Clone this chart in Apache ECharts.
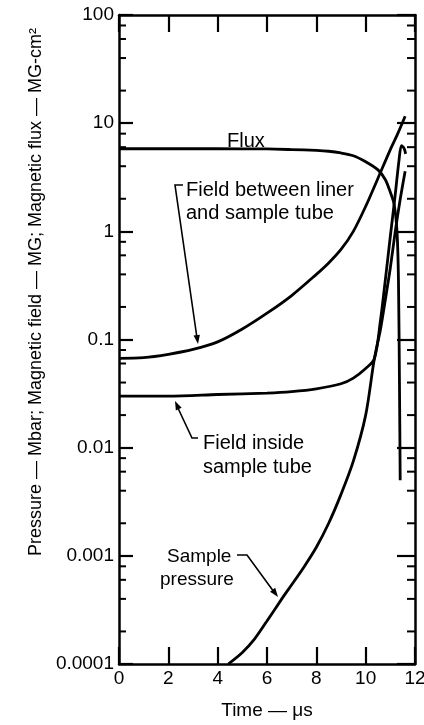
<!DOCTYPE html>
<html>
<head>
<meta charset="utf-8">
<script src="https://cdn.jsdelivr.net/npm/echarts@6/dist/echarts.min.js"></script>
<style>
html,body{margin:0;padding:0;background:#fff;}
#chart{width:424px;height:725px;}
</style>
</head>
<body>
<div id="chart"></div>
<script>
// ---- data ----
const xTickLabels = ['0','2','4','6','8','10','12'];
const yTickLabels = ['0.0001','0.001','0.01','0.1','1','10','100'];
const yMinorTicks = [
  0.0002,0.0004,0.0006,0.0008, 0.002,0.004,0.006,0.008,
  0.02,0.04,0.06,0.08, 0.2,0.4,0.6,0.8, 2,4,6,8, 20,40,60,80
];

const fluxTime  = [0, 2, 4, 6, 7, 8, 8.5, 9, 9.5, 10, 10.5, 10.8, 11.0, 11.15, 11.27, 11.33, 11.37, 11.4];
const fluxValue = [5.8, 5.8, 5.8, 5.78, 5.7, 5.6, 5.5, 5.3, 5.0, 4.4, 3.7, 3.0, 2.3, 1.8, 1.0, 0.35, 0.04, 0.005];

const betweenTime  = [0, 1, 2, 3, 4, 5, 6, 7, 8, 8.5, 9, 9.5, 10, 10.5, 11, 11.3, 11.6];
const betweenValue = [0.067, 0.068, 0.073, 0.081, 0.095, 0.125, 0.175, 0.255, 0.40, 0.51, 0.68, 1.0, 1.7, 3.1, 5.7, 8.0, 11.6];

const insideTime  = [0, 2, 4, 6, 7, 8, 9, 9.5, 10, 10.35, 10.6, 10.8, 11.0, 11.2, 11.35, 11.45, 11.55, 11.62];
const insideValue = [0.03, 0.03, 0.031, 0.032, 0.033, 0.035, 0.039, 0.044, 0.054, 0.066, 0.15, 0.36, 0.9, 2.2, 4.5, 6.2, 5.9, 5.2];

const pressureTime  = [4.43, 5, 5.5, 6, 6.6, 7, 7.5, 8, 8.5, 9, 9.5, 10, 10.35, 10.6, 10.8, 11.0, 11.2, 11.4, 11.6];
const pressureValue = [0.0001, 0.000128, 0.000171, 0.00025, 0.0004, 0.00054, 0.00079, 0.0012, 0.002, 0.0037, 0.0075, 0.02, 0.066, 0.124, 0.235, 0.46, 1.0, 1.98, 3.6];

const zip = (a, b) => a.map((v, i) => [v, b[i]]);

const chart = echarts.init(document.getElementById('chart'), null, {renderer: 'canvas'});

const FONT = 'Liberation Sans, Arial, Helvetica, sans-serif';
const lineStyle = {color: '#000', width: 2.8};

function curve(name, data, smooth) {
  return {
    name, type: 'line', data, smooth: smooth, symbol: 'none',
    lineStyle, clip: false, silent: true, z: 3
  };
}

// arrowheads for leader lines (layout, pixels)
function arrow(x1, y1, x2, y2) {
  const a = Math.atan2(y2 - y1, x2 - x1);
  const L = 9, W = 3.2;
  const bx = x2 - L * Math.cos(a), by = y2 - L * Math.sin(a);
  return {
    type: 'polygon',
    shape: {points: [[x2, y2],
      [bx + W * Math.sin(a), by - W * Math.cos(a)],
      [bx - W * Math.sin(a), by + W * Math.cos(a)]]},
    style: {fill: '#000'}
  };
}
function poly(points) {
  return {type: 'polyline', shape: {points}, style: {stroke: '#000', lineWidth: 1.6, fill: null}};
}
function label(text, x, y, size) {
  return {type: 'text', x, y, style: {text, fill: '#000', font: size + 'px ' + FONT, textVerticalAlign: 'middle', textAlign: 'left'}};
}

const axisLineStyle = {show: true, onZero: false, lineStyle: {color: '#000', width: 2.5}};

const option = {
  backgroundColor: '#fff',
  animation: false,
  grid: {left: 119, right: 9, top: 15, bottom: 61, containLabel: false, outerBoundsMode: 'none'},
  xAxis: [{
    type: 'value', min: 0, max: 12, interval: 2, position: 'bottom',
    axisLine: axisLineStyle,
    axisTick: {show: true, inside: true, length: 17, lineStyle: {color: '#000', width: 2.2}},
    splitLine: {show: false},
    axisLabel: {color: '#000', fontSize: 19, fontFamily: FONT, margin: 5,
      formatter: v => xTickLabels[Math.round(v / 2)]},
    name: 'Time — μs', nameLocation: 'middle', nameGap: 37,
    nameTextStyle: {color: '#000', fontSize: 19, fontFamily: FONT}
  }, {
    type: 'value', min: 0, max: 12, interval: 2, position: 'top',
    axisLine: axisLineStyle,
    axisTick: {show: true, inside: true, length: 17, lineStyle: {color: '#000', width: 2.2}},
    splitLine: {show: false}, axisLabel: {show: false}
  }],
  yAxis: [{
    type: 'log', logBase: 10, min: 0.0001, max: 100, position: 'left',
    axisLine: axisLineStyle,
    axisTick: {show: true, inside: true, length: 14, lineStyle: {color: '#000', width: 2.2}},
    splitLine: {show: false},
    axisLabel: {color: '#000', fontSize: 19, fontFamily: FONT, margin: 5,
      formatter: v => yTickLabels[Math.round(Math.log10(v)) + 4]}
  }, {
    type: 'log', logBase: 10, min: 0.0001, max: 100, position: 'right',
    axisLine: axisLineStyle,
    axisTick: {show: true, inside: true, length: 18, lineStyle: {color: '#000', width: 2.2}},
    splitLine: {show: false}, axisLabel: {show: false}
  }],
  series: [
    curve('Flux', zip(fluxTime, fluxValue), 0.25),
    curve('Field between liner and sample tube', zip(betweenTime, betweenValue), 0.3),
    curve('Field inside sample tube', zip(insideTime, insideValue), 0.3),
    curve('Sample pressure', zip(pressureTime, pressureValue), 0.3),
    {
      type: 'custom', silent: true, clip: false, z: 4,
      data: yMinorTicks.map(v => [0, v]),
      encode: {x: 0, y: 1},
      renderItem: function (params, api) {
        const v = api.value(1);
        const p = api.coord([0, v]);
        const q = api.coord([12, v]);
        return {type: 'group', children: [
          {type: 'line', shape: {x1: p[0], y1: p[1], x2: p[0] + 7, y2: p[1]}, style: {stroke: '#000', lineWidth: 2}},
          {type: 'line', shape: {x1: q[0] - 8, y1: q[1], x2: q[0], y2: q[1]}, style: {stroke: '#000', lineWidth: 2}}
        ]};
      }
    }
  ],
  graphic: [
    {
      type: 'text', x: 36, y: 292, rotation: Math.PI / 2,
      style: {text: 'Pressure — Mbar; Magnetic field — MG; Magnetic flux — MG-cm²',
        fill: '#000', font: '18px ' + FONT, textAlign: 'center', textVerticalAlign: 'middle'}
    },
    label('Flux', 227, 141, 20),
    label('Field between liner', 186, 190, 20),
    label('and sample tube', 186, 213, 20),
    poly([[183, 185], [175, 185], [197, 338]]),
    arrow(175, 185, 198, 344),
    label('Field inside', 203, 443, 20),
    label('sample tube', 203, 467, 20),
    poly([[198, 438], [192, 438], [177, 406]]),
    arrow(192, 438, 175, 401),
    label('Sample', 167, 557, 19),
    label('pressure', 160, 580, 19),
    poly([[237, 555], [247, 555], [274, 592]]),
    arrow(247, 555, 278, 597)
  ]
};
chart.setOption(option);
</script>
</body>
</html>
